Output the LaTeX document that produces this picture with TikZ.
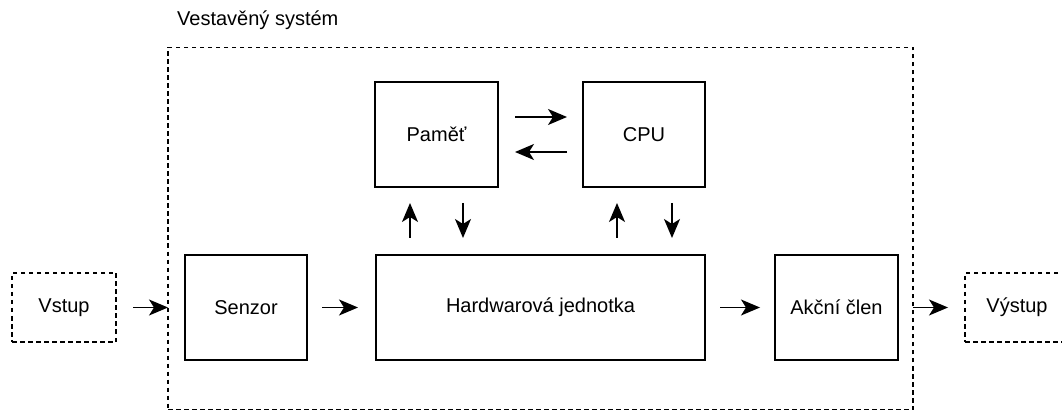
\documentclass[tikz,border=0pt]{standalone}
\usepackage{fontspec}
\setmainfont{Liberation Sans}
\usetikzlibrary{arrows.meta}
\tikzset{bigtip/.tip={Stealth[length=19pt,width=16pt,inset=5pt]}}
\begin{document}
\begin{tikzpicture}[x=1pt,y=-1pt,
  box/.style={draw,line width=1.5pt,inner sep=0pt,font=\fontsize{20}{24}\selectfont},
  dbox/.style={box,dash pattern=on 4.5pt off 3.5pt},
  arr/.style={line width=1.5pt,-bigtip},
  lbl/.style={font=\fontsize{20}{24}\selectfont,anchor=west,inner sep=0pt}]
\useasboundingbox (0,0) rectangle (1062,411);
\node[lbl] (title) at (177,20) {Vestavěný systém};
\node[draw,line width=1.5pt,dash pattern=on 4.5pt off 3.5pt,minimum width=745pt,minimum height=362pt,inner sep=0pt] (sys) at (540.5,228.5) {};
\node[box,minimum width=123pt,minimum height=105pt] (mem) at (436.5,134.5) {Paměť};
\node[box,minimum width=122pt,minimum height=105pt] (cpu) at (644,134.5) {CPU};
\node[box,minimum width=122pt,minimum height=105pt] (sen) at (246,307.5) {Senzor};
\node[box,minimum width=329pt,minimum height=105pt] (hw) at (540.5,307.5) {Hardwarová jednotka};
\node[box,minimum width=123pt,minimum height=105pt] (act) at (836.5,307.5) {Akční člen};
\node[dbox,minimum width=104pt,minimum height=69pt] (in) at (64,307.5) {Vstup};
\node[dbox,minimum width=104pt,minimum height=69pt] (out) at (1017,307.5) {Výstup};
\coordinate (a1s) at (515,117); \coordinate (a1e) at (567,117);
\coordinate (a2s) at (567,152); \coordinate (a2e) at (515,152);
\draw[arr] (a1s) -- (a1e);
\draw[arr] (a2s) -- (a2e);
\coordinate (v1s) at (410,238); \coordinate (v1e) at (410,203);
\coordinate (v2s) at (463,203); \coordinate (v2e) at (463,238);
\coordinate (v3s) at (617,238); \coordinate (v3e) at (617,203);
\coordinate (v4s) at (672,203); \coordinate (v4e) at (672,238);
\draw[arr] (v1s) -- (v1e);
\draw[arr] (v2s) -- (v2e);
\draw[arr] (v3s) -- (v3e);
\draw[arr] (v4s) -- (v4e);
\coordinate (h1s) at (133,307.5); \coordinate (h1e) at (168,307.5);
\coordinate (h2s) at (322,307.5); \coordinate (h2e) at (358,307.5);
\coordinate (h3s) at (720,307.5); \coordinate (h3e) at (760,307.5);
\coordinate (h4s) at (913,307.5); \coordinate (h4e) at (948,307.5);
\draw[arr] (h1s) -- (h1e);
\draw[arr] (h2s) -- (h2e);
\draw[arr] (h3s) -- (h3e);
\draw[arr] (h4s) -- (h4e);
\end{tikzpicture}
\end{document}
